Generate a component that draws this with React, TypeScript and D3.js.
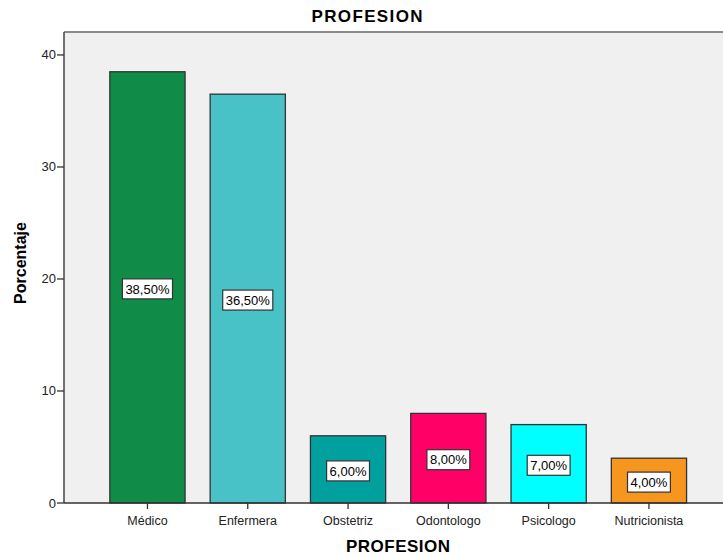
import React from "react";
import * as d3 from "d3";

const categories = ["Médico", "Enfermera", "Obstetriz", "Odontologo", "Psicologo", "Nutricionista"];
const values = [38.5, 36.5, 6.0, 8.0, 7.0, 4.0];
const valueLabels = ["38,50%", "36,50%", "6,00%", "8,00%", "7,00%", "4,00%"];
const colors = ["#108c48", "#48c2c7", "#00a09f", "#ff0066", "#00ffff", "#f7961e"];
const yTicks = [0, 10, 20, 30, 40];

const W = 723;
const H = 556;
const plotLeft = 64;
const plotRight = 723;
const plotTop = 32;
const plotBottom = 503;

const font = "'Liberation Sans', Arial, sans-serif";

function measure(text: string, size: number): number {
  if (typeof document === "undefined") return text.length * size * 0.55;
  const c = document.createElement("canvas");
  const ctx = c.getContext("2d");
  if (!ctx) return text.length * size * 0.55;
  ctx.font = `${size}px 'Liberation Sans', Arial, sans-serif`;
  return ctx.measureText(text).width;
}

export default function App() {
  const y = d3.scaleLinear().domain([0, 42.05]).range([plotBottom, plotTop]);
  const x = d3
    .scaleBand<string>()
    .domain(categories)
    .range([97.3, 699.1])
    .paddingInner(0.25)
    .paddingOuter(0.125);
  return (
    <svg
      width={W}
      height={H}
      style={{ position: "absolute", left: 0, top: 0, background: "#fff" }}
      fontFamily={font}
    >
      <rect x={plotLeft} y={plotTop} width={plotRight - plotLeft} height={plotBottom - plotTop} fill="#f0f0f0" />
      <line x1={plotLeft} x2={plotRight} y1={plotTop} y2={plotTop} stroke="#8a8a8a" strokeWidth={2} />
      {categories.map((c, i) => {
        const bx = x(c)!;
        const bw = x.bandwidth();
        const top = y(values[i]);
        const midY = (top + plotBottom) / 2 + 1.5;
        const cx = bx + bw / 2;
        const tw = measure(valueLabels[i], 13) + 6;
        return (
          <g key={c}>
            <rect x={bx} y={top} width={bw} height={plotBottom - top} fill={colors[i]} stroke="#333" strokeWidth={1.3} />
            <rect x={cx - tw / 2} y={midY - 10} width={tw} height={20} fill="#fff" stroke="#333" strokeWidth={1.2} />
            <text x={cx} y={midY + 4.7} textAnchor="middle" fontSize={13} fill="#000">
              {valueLabels[i]}
            </text>
            <line x1={cx} x2={cx} y1={plotBottom} y2={plotBottom + 6} stroke="#333" strokeWidth={1.3} />
            <text x={cx} y={plotBottom + 22} textAnchor="middle" fontSize={12.5} fill="#222">
              {c}
            </text>
          </g>
        );
      })}
      <line x1={plotLeft} x2={plotLeft} y1={plotTop} y2={plotBottom} stroke="#444" strokeWidth={1.5} />
      <line x1={plotLeft} x2={plotRight} y1={plotBottom} y2={plotBottom} stroke="#333" strokeWidth={1.5} />
      {yTicks.map((t) => (
        <g key={t}>
          <line x1={plotLeft - 7} x2={plotLeft} y1={y(t)} y2={y(t)} stroke="#333" strokeWidth={1.3} />
          <text x={plotLeft - 8} y={y(t) + 4.5} textAnchor="end" fontSize={13} fill="#222">
            {t}
          </text>
        </g>
      ))}
      <text x={367} y={22.3} textAnchor="middle" fontSize={17} fontWeight="bold" fill="#000" textLength={111} lengthAdjust="spacing">
        PROFESION
      </text>
      <text x={398} y={552.3} textAnchor="middle" fontSize={17} fontWeight="bold" fill="#000" textLength={104} lengthAdjust="spacing">
        PROFESION
      </text>
      <text
        transform={`translate(26, 263) rotate(-90)`}
        textAnchor="middle"
        fontSize={16}
        fontWeight="bold"
        fill="#000"
      >
        Porcentaje
      </text>
    </svg>
  );
}
